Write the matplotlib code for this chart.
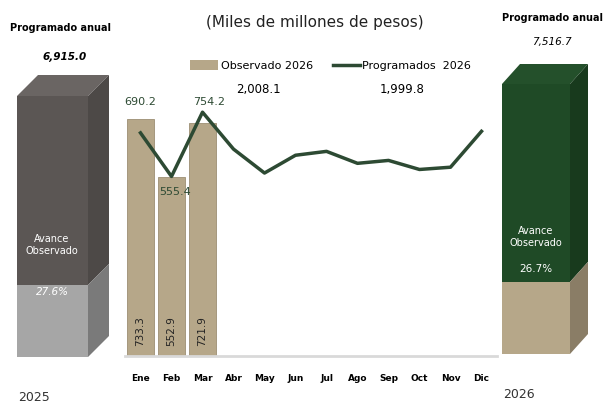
import numpy as np
import matplotlib.pyplot as plt
from matplotlib.patches import Polygon

# datos mensuales 2026 (miles de millones de pesos)
meses = ['Ene', 'Feb', 'Mar', 'Abr', 'May', 'Jun', 'Jul', 'Ago', 'Sep', 'Oct', 'Nov', 'Dic']
observado = [733.3, 552.9, 721.9]
programado = [690.2, 555.4, 754.2, 640, 566, 621, 633, 596, 605, 577, 584, 695]
etiquetas_prog = ['690.2', '555.4', '754.2']

# totales anuales y avance
anios = ['2025', '2026']
prog_anual = ['6,915.0', '7,516.7']
avance = [27.6, 26.7]
avance_txt = ['27.6%', '26.7%']
total_obs = '2,008.1'
total_prog = '1,999.8'

W, H = 606, 406
fig = plt.figure(figsize=(W / 100, H / 100), dpi=100)

# capa de fondo en pixeles para las cajas 3D y textos
ov = fig.add_axes([0, 0, 1, 1])
ov.set_xlim(0, W)
ov.set_ylim(H, 0)
ov.axis('off')


def caja(x0, x1, yt, yb, dx, dy, pct, c_front, c_side, c_top, c_low, c_low_side):
    ys = yb - (yb - yt) * pct / 100
    ov.add_patch(Polygon([(x0, yt), (x0 + dx, yt - dy), (x1 + dx, yt - dy), (x1, yt)], color=c_top, lw=0))
    ov.add_patch(Polygon([(x0, yt), (x1, yt), (x1, ys), (x0, ys)], color=c_front, lw=0))
    ov.add_patch(Polygon([(x1, yt), (x1 + dx, yt - dy), (x1 + dx, ys - dy), (x1, ys)], color=c_side, lw=0))
    ov.add_patch(Polygon([(x0, ys), (x1, ys), (x1, yb), (x0, yb)], color=c_low, lw=0))
    ov.add_patch(Polygon([(x1, ys), (x1 + dx, ys - dy), (x1 + dx, yb - dy), (x1, yb)], color=c_low_side, lw=0))
    return ys


# caja 2025
ys = caja(17, 88, 97, 358, 21, 21, avance[0], '#5b5654', '#4d4947', '#6a6563', '#a6a6a6', '#7a7a7a')
ov.text(52, 245, 'Avance\nObservado', color='white', fontsize=7, ha='center', va='center', linespacing=1.3)
ov.text(52, ys + 6, avance_txt[0], color='white', fontsize=7.5, ha='center', va='center', style='italic')
ov.text(60, 28, 'Programado anual', fontsize=7, ha='center', va='center', fontweight='semibold')
ov.text(65, 57, prog_anual[0], fontsize=7.5, ha='center', va='center', style='italic', fontweight='semibold')
ov.text(18, 398, anios[0], fontsize=9, ha='left', va='center', color='#333333')

# caja 2026
ys = caja(502, 570, 85, 355, 18, 20, avance[1], '#1f4a26', '#183a1d', '#24502b', '#b6a789', '#8a7d66')
ov.text(536, 237, 'Avance\nObservado', color='white', fontsize=7, ha='center', va='center', linespacing=1.3)
ov.text(536, ys - 14, avance_txt[1], color='white', fontsize=7.5, ha='center', va='center')
ov.text(552, 18, 'Programado anual', fontsize=7, ha='center', va='center', fontweight='semibold')
ov.text(552, 42, prog_anual[1], fontsize=7.5, ha='center', va='center', style='italic')
ov.text(503, 395, anios[1], fontsize=9, ha='left', va='center', color='#333333')

# titulo y leyenda
ov.text(315, 22, '(Miles de millones de pesos)', fontsize=11, ha='center', va='center', color='#222222')
ov.add_patch(Polygon([(190, 61), (218, 61), (218, 71), (190, 71)], color='#b6a789', lw=0))
ov.text(221, 66, 'Observado 2026', fontsize=8, ha='left', va='center')
ov.plot([333, 360], [66, 66], color='#2d4a33', lw=2.5)
ov.text(362, 66, 'Programados  2026', fontsize=8, ha='left', va='center')
ov.text(258, 90, total_obs, fontsize=8.5, ha='center', va='center')
ov.text(402, 90, total_prog, fontsize=8.5, ha='center', va='center')

# grafica mensual
ax = fig.add_axes([125 / W, (H - 357) / H, 372 / W, 257 / H])
ax.patch.set_alpha(0)
x = np.arange(len(meses))
ax.bar(x[:len(observado)], observado, width=0.86, color='#b6a789', edgecolor='#9c8f74', linewidth=0.6)
ax.plot(x, programado, color='#2d4a33', lw=2.5, zorder=3)
for i, v in enumerate(observado):
    ax.text(i, 80, f'{v:.1f}', rotation=90, ha='center', va='center', fontsize=7.5, color='#222222')
offs = [100, -46, 35]
dxs = [0, 0.12, 0.22]
for i, t in enumerate(etiquetas_prog):
    ax.text(i + dxs[i], programado[i] + offs[i], t, ha='center', va='center',
            fontsize=8, color='#2d4a33')
ax.set_xlim(-0.5, 11.5)
ax.set_ylim(0, 795)
ax.set_xticks(x)
ax.set_xticklabels(meses, fontsize=6.5, fontweight='bold')
ax.tick_params(axis='x', length=0, pad=12)
ax.set_yticks([])
for s in ['top', 'right', 'left']:
    ax.spines[s].set_visible(False)
ax.spines['bottom'].set_color('#d9d9d9')
ax.spines['bottom'].set_linewidth(2)

fig.savefig('out.png', dpi=100)
